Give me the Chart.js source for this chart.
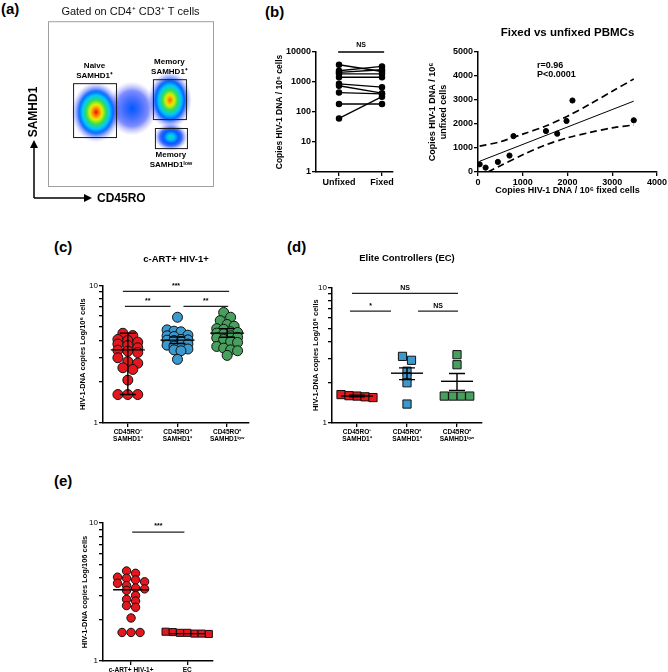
<!DOCTYPE html>
<html><head><meta charset="utf-8">
<script src="https://cdn.jsdelivr.net/npm/chart.js@4/dist/chart.umd.min.js"></script>
<style>
body{margin:0;background:#fff;width:668px;height:672px;position:relative;overflow:hidden;font-family:"Liberation Sans",Arial,sans-serif}
canvas{position:absolute}
.pl{position:absolute;font:bold 15px "Liberation Sans",Arial,sans-serif;color:#000;line-height:15px}
</style></head><body>
<div class="pl" style="left:1px;top:1px">(a)</div>
<div class="pl" style="left:265px;top:4px">(b)</div>
<div class="pl" style="left:54px;top:239px">(c)</div>
<div class="pl" style="left:287px;top:239px">(d)</div>
<div class="pl" style="left:54px;top:473px">(e)</div>
<canvas id="ca" width="230" height="205" style="left:0;top:0"></canvas>
<canvas id="cb1" width="180" height="180" style="left:230px;top:20px"></canvas>
<canvas id="cb2" width="258" height="180" style="left:410px;top:20px"></canvas>
<canvas id="cc" width="255" height="220" style="left:0;top:230px"></canvas>
<canvas id="cd" width="240" height="220" style="left:255px;top:230px"></canvas>
<canvas id="ce" width="230" height="182" style="left:0;top:490px"></canvas>
<script>
// ---------------- DATA ----------------
// (a) flow density clusters (arbitrary fluorescence units 0-1000)
const clusterName = ['bridge','memoryHigh','memoryLow','naive'];
const clusterX  = [510, 739, 745, 291];
const clusterY  = [470, 521, 297, 448];
const clusterSX = [150, 133, 103, 150];
const clusterSY = [165, 175, 85, 185];
const clusterPeak = [0.3, 0.92, 0.55, 1.0];
const gateX1 = [152, 636, 648];
const gateX2 = [412, 836, 842];
const gateY1 = [297, 406, 230];
const gateY2 = [624, 648, 352];
const gateLabel1 = ['Naive', 'Memory', 'Memory'];
const gateLabel2 = ['SAMHD1⁺', 'SAMHD1⁺', 'SAMHD1ˡᵒʷ'];

// (b) paired unfixed vs fixed
const pairedCategories = ['Unfixed', 'Fixed'];
const pairedUnfixed = [3760, 2370, 2080, 1870, 1440, 870, 750, 445, 185, 61];
const pairedFixed   = [2240, 3300, 2560, 1870, 1440, 670, 425, 400, 185, 325];
const pairedYTicks = [1, 10, 100, 1000, 10000];

// (b) correlation
const scatterFixed   = [37, 170, 444, 704, 793, 1519, 1770, 1978, 2111, 3481];
const scatterUnfixed = [321, 182, 419, 685, 1495, 1704, 1593, 2123, 2975, 2151];
const fitX = [37, 3481];
const fitY = [447, 2947];
const bandUpperX = [37, 500, 1000, 1500, 2000, 2500, 3000, 3481];
const bandUpperY = [1076, 1260, 1576, 1900, 2322, 2825, 3358, 3870];
const bandLowerX = [222, 500, 1000, 1500, 2000, 2500, 3000, 3481];
const bandLowerY = [0, 263, 716, 1120, 1422, 1645, 1838, 1956];

// (c) c-ART+ HIV-1+
const cCategories = [['CD45RO⁻','SAMHD1⁺'], ['CD45RO⁺','SAMHD1⁺'], ['CD45RO⁺','SAMHD1ˡᵒʷ']];
const cNaive  = [4.49, 4.32, 4.05, 3.98, 3.87, 3.75, 3.66, 3.52, 3.38, 3.33, 3.25, 2.98, 2.80, 2.72, 2.52, 2.45, 2.05, 1.61, 1.61, 1.61];
const cMemHigh = [5.87, 4.75, 4.65, 4.6, 4.35, 4.3, 4.25, 4.05, 4.02, 4.0, 3.98, 3.9, 3.75, 3.68, 3.62, 3.5, 3.45, 3.4, 3.35, 2.9];
const cMemLow  = [6.36, 5.87, 5.55, 5.2, 5.05, 4.85, 4.8, 4.6, 4.55, 4.5, 4.45, 4.3, 4.2, 4.15, 4.05, 3.9, 3.85, 3.6, 3.5, 3.4, 3.35, 3.1];
const cMid  = [3.4, 4.0, 4.5];
const cLow  = [1.61, 3.78, 4.2];
const cHigh = [4.49, 4.22, 4.85];
const cSigFrom = [-0.1, -0.06, 1.12];
const cSigTo   = [2.04, 0.86, 2.02];
const cSigY    = [9.05, 7.05, 7.05];
const cSigText = ['***', '**', '**'];
const logTicks = [1, 2, 3, 4, 5, 6, 7, 8, 9, 10];
const logLabels = [1, 10];

// (d) Elite controllers
const dNaive   = [1.58, 1.56, 1.54, 1.62, 1.59];
const dMemHigh = [3.1, 2.9, 2.41, 2.19, 1.98, 1.38];
const dMemLow  = [3.19, 2.69, 1.58, 1.58, 1.58, 1.58];
const dMid  = [1.58, 2.33, 2.03];
const dLow  = [1.56, 2.09, 1.74];
const dHigh = [1.60, 2.55, 2.32];
const dSigFrom = [-0.1, -0.14, 1.22];
const dSigTo   = [2.02, 0.68, 2.02];
const dSigY    = [9.04, 6.68, 6.68];
const dSigText = ['NS', '*', 'NS'];

// (e) c-ART+ vs EC
const eCategories = ['c-ART+ HIV-1+', 'EC'];
const eCart = cNaive;
const eEC = [1.62, 1.60, 1.58, 1.57, 1.58, 1.60, 1.63];
const eMid = [3.28, 1.58];
const eSigFrom = [0.02];
const eSigTo = [0.95];
const eSigY = [8.6];
const eSigText = ['***'];

// ---------------- HELPERS ----------------
const F = '"Liberation Sans", Arial, Helvetica, sans-serif';
Chart.defaults.font.family = F;
Chart.defaults.color = '#000';
const RED = '#e5161d', BLUE = '#3a9ad0', GREEN = '#48a05e';

function swarm(values, pxPerDecade, pxPerUnit, sp, maxPerRow, tol) {
  const idx = values.map((v, i) => i).sort((a, b) => values[b] - values[a]);
  const offs = new Array(values.length).fill(0);
  let row = [], rowStart = 0;
  const flush = () => { row.forEach((i, k) => { offs[i] = (k - (row.length - 1) / 2) * sp / pxPerUnit; }); row = []; };
  idx.forEach(i => {
    const py = Math.log10(values[i]) * pxPerDecade;
    if (row.length && (rowStart - py > tol || row.length >= maxPerRow)) flush();
    if (!row.length) rowStart = py;
    row.push(i);
  });
  flush();
  return offs;
}
function groupData(values, cat, pxU, sp, maxPerRow, tol) {
  const o = swarm(values, 138, pxU, sp, maxPerRow, tol);
  return values.map((v, i) => ({ x: cat + o[i], y: v }));
}
function axisBase() {
  return {
    border: { display: true, color: '#000', width: 1.5 },
    grid: { display: true, drawOnChartArea: false, drawTicks: true, tickLength: 4, color: '#000', lineWidth: 1.3 }
  };
}
function annotPlugin(mid, low, high, midHalf, capHalf, sFrom, sTo, sY, sText) {
  return {
    id: 'annot',
    afterDatasetsDraw(chart) {
      const { ctx, scales: { x, y } } = chart;
      ctx.save();
      ctx.strokeStyle = '#000'; ctx.lineWidth = 1.4;
      mid.forEach((m, i) => {
        const cx = x.getPixelForValue(i);
        const ym = y.getPixelForValue(m);
        ctx.beginPath(); ctx.moveTo(cx - midHalf, ym); ctx.lineTo(cx + midHalf, ym); ctx.stroke();
        if (low && high) {
          const yl = y.getPixelForValue(low[i]), yh = y.getPixelForValue(high[i]);
          ctx.beginPath(); ctx.moveTo(cx, yl); ctx.lineTo(cx, yh);
          ctx.moveTo(cx - capHalf, yl); ctx.lineTo(cx + capHalf, yl);
          ctx.moveTo(cx - capHalf, yh); ctx.lineTo(cx + capHalf, yh); ctx.stroke();
        }
      });
      ctx.lineWidth = 1.2; ctx.strokeStyle = '#222';
      ctx.font = 'bold 7px ' + F; ctx.fillStyle = '#000'; ctx.textAlign = 'center'; ctx.textBaseline = 'bottom';
      sFrom.forEach((f, i) => {
        const x1 = x.getPixelForValue(f), x2 = x.getPixelForValue(sTo[i]), yy = y.getPixelForValue(sY[i]);
        ctx.beginPath(); ctx.moveTo(x1, yy); ctx.lineTo(x2, yy); ctx.stroke();
        ctx.fillText(sText[i], (x1 + x2) / 2, yy - 2);
      });
      ctx.restore();
    }
  };
}
function logY(width, titleText, titlePad) {
  return Object.assign(axisBase(), {
    type: 'logarithmic', min: 1, max: 10,
    afterBuildTicks: s => { s.ticks = logTicks.map(v => ({ value: v })); },
    ticks: { callback: v => logLabels.includes(v) ? String(v) : '', font: { size: 8 }, padding: 1, autoSkip: false },
    afterFit: s => { s.width = width; },
    title: { display: true, text: titleText, font: { size: 7.5, weight: 'bold' }, padding: { top: titlePad, bottom: 0 } }
  });
}
function catX(cats, min, max, height, fontSize) {
  return Object.assign(axisBase(), {
    type: 'linear', min: min, max: max,
    afterBuildTicks: s => { s.ticks = cats.map((c, i) => ({ value: i })); },
    ticks: { callback: v => cats[v], font: { size: fontSize, weight: 'bold' }, padding: 1, autoSkip: false, maxRotation: 0 },
    afterFit: s => { s.height = height; }
  });
}
const baseOpts = { responsive: false, animation: false, events: [] };
const noLegend = { legend: { display: false }, tooltip: { enabled: false } };

// ---------------- (a) flow plot ----------------
const cmap = [[0, [0, 0, 255]], [0.3, [0, 90, 255]], [0.45, [0, 200, 255]], [0.6, [50, 220, 90]], [0.75, [230, 240, 0]], [0.88, [255, 130, 0]], [1, [255, 0, 0]]];
function densColor(d, t) {
  let c = cmap[0][1];
  for (let k = 1; k < cmap.length; k++) {
    if (d <= cmap[k][0]) {
      const a = cmap[k - 1], b = cmap[k];
      const f = (d - a[0]) / (b[0] - a[0]);
      c = a[1].map((v, j) => Math.round(v + (b[1][j] - v) * f));
      break;
    }
    c = cmap[k][1];
  }
  let alpha = Math.min(1, 0.25 + d * 2.5);
  if (t > 0.65) alpha *= Math.max(0, (1 - t) / 0.35);
  return 'rgba(' + c[0] + ',' + c[1] + ',' + c[2] + ',' + alpha.toFixed(3) + ')';
}
const flowPlugin = {
  id: 'flow',
  beforeDatasetsDraw(chart) {
    const { ctx, chartArea: a, scales: { x, y } } = chart;
    ctx.save();
    ctx.beginPath(); ctx.rect(a.left, a.top, a.width, a.height); ctx.clip();
    clusterX.forEach((cxv, i) => {
      const cx = x.getPixelForValue(cxv), cy = y.getPixelForValue(clusterY[i]);
      const rx = Math.abs(x.getPixelForValue(cxv + clusterSX[i]) - cx);
      const ry = Math.abs(y.getPixelForValue(clusterY[i] + clusterSY[i]) - cy);
      ctx.save(); ctx.translate(cx, cy); ctx.scale(rx, ry);
      const g = ctx.createRadialGradient(0, 0, 0, 0, 0, 1);
      for (let k = 0; k <= 20; k++) { const t = k / 20; g.addColorStop(t, densColor(clusterPeak[i] * (1 - t), t)); }
      ctx.fillStyle = g; ctx.beginPath(); ctx.arc(0, 0, 1, 0, Math.PI * 2); ctx.fill();
      ctx.restore();
    });
    ctx.restore();
  },
  afterDraw(chart) {
    const { ctx, chartArea: a, scales: { x, y } } = chart;
    ctx.save();
    ctx.strokeStyle = '#1a1a1a'; ctx.lineWidth = 1;
    ctx.font = 'bold 8px ' + F; ctx.fillStyle = '#000'; ctx.textAlign = 'center'; ctx.textBaseline = 'middle';
    gateX1.forEach((gx, i) => {
      const x1 = x.getPixelForValue(gx), x2 = x.getPixelForValue(gateX2[i]);
      const y1 = y.getPixelForValue(gateY1[i]), y2 = y.getPixelForValue(gateY2[i]);
      ctx.strokeRect(x1 + 0.5, y2 + 0.5, x2 - x1, y1 - y2);
      const cx = (x1 + x2) / 2;
      if (i < 2) { ctx.fillText(gateLabel1[i], cx, y2 - 17); ctx.fillText(gateLabel2[i], cx, y2 - 7); }
      else { ctx.fillText(gateLabel1[i], cx, y1 + 7); ctx.fillText(gateLabel2[i], cx, y1 + 17); }
    });
    ctx.strokeStyle = '#a0a0a0';
    ctx.strokeRect(a.left + 0.5, a.top + 0.5, a.width, a.height);
    // axes arrows
    ctx.strokeStyle = '#000'; ctx.lineWidth = 1.5; ctx.fillStyle = '#000';
    ctx.beginPath(); ctx.moveTo(34, 198); ctx.lineTo(34, 146); ctx.moveTo(34, 198); ctx.lineTo(86, 198); ctx.stroke();
    ctx.beginPath(); ctx.moveTo(34, 140); ctx.lineTo(30, 148); ctx.lineTo(38, 148); ctx.closePath(); ctx.fill();
    ctx.beginPath(); ctx.moveTo(92, 198); ctx.lineTo(84, 194); ctx.lineTo(84, 202); ctx.closePath(); ctx.fill();
    ctx.font = 'bold 12px ' + F;
    ctx.textAlign = 'left'; ctx.fillText('CD45RO', 97, 199);
    ctx.translate(34, 112); ctx.rotate(-Math.PI / 2); ctx.textAlign = 'center'; ctx.fillText('SAMHD1', 0, 0);
    ctx.restore();
  }
};
new Chart(document.getElementById('ca'), {
  type: 'scatter',
  data: { datasets: [{ data: clusterX.map((v, i) => ({ x: v, y: clusterY[i] })), pointRadius: 0 }] },
  options: Object.assign({}, baseOpts, {
    layout: { padding: { left: 48, right: 17, top: 0, bottom: 19 } },
    plugins: Object.assign({}, noLegend, {
      title: { display: true, fullSize: false, text: 'Gated on CD4⁺ CD3⁺ T cells', font: { size: 11, weight: 'normal' }, color: '#111', padding: { top: 5, bottom: 3 } }
    }),
    scales: { x: { display: false, min: 0, max: 1000 }, y: { display: false, min: 0, max: 1000 } }
  }),
  plugins: [flowPlugin]
});

// ---------------- (b) paired ----------------
const nsPlugin = {
  id: 'ns',
  afterDatasetsDraw(chart) {
    const { ctx, scales: { x, y } } = chart;
    const x1 = x.getPixelForValue(-0.02), x2 = x.getPixelForValue(1.05), yy = y.getPixelForValue(10000);
    ctx.save(); ctx.strokeStyle = '#000'; ctx.lineWidth = 1.4;
    ctx.beginPath(); ctx.moveTo(x1, yy); ctx.lineTo(x2, yy); ctx.stroke();
    ctx.font = 'bold 7px ' + F; ctx.textAlign = 'center'; ctx.textBaseline = 'bottom'; ctx.fillStyle = '#000';
    ctx.fillText('NS', (x1 + x2) / 2, yy - 3);
    ctx.restore();
  }
};
new Chart(document.getElementById('cb1'), {
  type: 'scatter',
  data: {
    datasets: pairedUnfixed.map((u, i) => ({
      data: [{ x: 0, y: u }, { x: 1, y: pairedFixed[i] }], showLine: true,
      borderColor: '#000', borderWidth: 1.3, pointRadius: 2.6, pointBackgroundColor: '#000', pointBorderColor: '#000'
    }))
  },
  options: Object.assign({}, baseOpts, {
    layout: { padding: { left: 0, right: 17, top: 32, bottom: 0 } },
    plugins: noLegend,
    scales: {
      x: catX(pairedCategories, -0.535, 1.256, 28, 9),
      y: Object.assign(axisBase(), {
        type: 'logarithmic', min: 1, max: 10000,
        afterBuildTicks: s => { s.ticks = pairedYTicks.map(v => ({ value: v })); },
        ticks: { callback: v => String(v), font: { size: 9, weight: 'bold' }, padding: 1 },
        afterFit: s => { s.width = 86; },
        title: { display: true, text: 'Copies HIV-1 DNA / 10⁶ cells', font: { size: 8.5, weight: 'bold' }, padding: { top: 45, bottom: 0 } }
      })
    }
  }),
  plugins: [nsPlugin]
});

// ---------------- (b) correlation ----------------
const rPlugin = {
  id: 'rtext',
  afterDatasetsDraw(chart) {
    const { ctx, chartArea: a } = chart;
    ctx.save(); ctx.font = 'bold 9px ' + F; ctx.fillStyle = '#000'; ctx.textAlign = 'left'; ctx.textBaseline = 'middle';
    ctx.fillText('r=0.96', a.left + 59, a.top + 14);
    ctx.fillText('P<0.0001', a.left + 59, a.top + 23);
    ctx.restore();
  }
};
new Chart(document.getElementById('cb2'), {
  type: 'scatter',
  data: {
    datasets: [
      { data: scatterFixed.map((v, i) => ({ x: v, y: scatterUnfixed[i] })), pointRadius: 2.6, pointBackgroundColor: '#000', pointBorderColor: '#000' },
      { data: fitX.map((v, i) => ({ x: v, y: fitY[i] })), showLine: true, pointRadius: 0, borderColor: '#000', borderWidth: 1 },
      { data: bandUpperX.map((v, i) => ({ x: v, y: bandUpperY[i] })), showLine: true, pointRadius: 0, borderColor: '#000', borderWidth: 1.7, borderDash: [7, 4], tension: 0.3 },
      { data: bandLowerX.map((v, i) => ({ x: v, y: bandLowerY[i] })), showLine: true, pointRadius: 0, borderColor: '#000', borderWidth: 1.7, borderDash: [7, 4], tension: 0.3 }
    ]
  },
  options: Object.assign({}, baseOpts, {
    layout: { padding: { left: 0, right: 10, top: 0, bottom: 0 } },
    plugins: Object.assign({}, noLegend, {
      title: { display: true, fullSize: false, text: 'Fixed vs unfixed PBMCs', font: { size: 11.5, weight: 'bold' }, padding: { top: 6, bottom: 12 } }
    }),
    scales: {
      x: Object.assign(axisBase(), {
        type: 'linear', min: 0, max: 4000,
        ticks: { stepSize: 1000, callback: v => String(v), font: { size: 9, weight: 'bold' }, padding: 1 },
        afterFit: s => { s.height = 28; },
        title: { display: true, text: 'Copies HIV-1 DNA / 10⁶ fixed cells', font: { size: 9, weight: 'bold' }, padding: { top: 0, bottom: 4 } }
      }),
      y: Object.assign(axisBase(), {
        type: 'linear', min: 0, max: 5000,
        ticks: { stepSize: 1000, callback: v => String(v), font: { size: 9, weight: 'bold' }, padding: 1 },
        afterFit: s => { s.width = 68; },
        title: { display: true, text: ['Copies HIV-1 DNA / 10⁶', 'unfixed cells'], font: { size: 9, weight: 'bold' }, padding: { top: 17, bottom: 0 } }
      })
    }
  }),
  plugins: [rPlugin]
});

// ---------------- (c) ----------------
function circleSet(data, color, r) {
  return { data: data, pointRadius: r, pointBackgroundColor: color, pointBorderColor: '#111', pointBorderWidth: 1 };
}
function squareSet(data, color, r) {
  return { data: data, pointStyle: 'rect', pointRadius: r, pointBackgroundColor: color, pointBorderColor: '#111', pointBorderWidth: 1 };
}
new Chart(document.getElementById('cc'), {
  type: 'scatter',
  data: {
    datasets: [
      circleSet(groupData(cNaive, 0, 50, 10, 3, 6), RED, 5),
      circleSet(groupData(cMemHigh, 1, 50, 7, 4, 6), BLUE, 5),
      circleSet(groupData(cMemLow, 2, 50, 7, 4, 6), GREEN, 5)
    ]
  },
  options: Object.assign({}, baseOpts, {
    layout: { padding: { left: 0, right: 5, top: 0, bottom: 0 } },
    plugins: Object.assign({}, noLegend, {
      title: { display: true, fullSize: false, text: 'c-ART+ HIV-1+', font: { size: 9.5, weight: 'bold' }, padding: { top: 24, bottom: 20 } }
    }),
    scales: { x: catX(cCategories, -0.5, 2.44, 27, 6.5), y: logY(103, 'HIV-1-DNA copies Log/10⁶ cells', 78) }
  }),
  plugins: [annotPlugin(cMid, cLow, cHigh, 17, 8, cSigFrom, cSigTo, cSigY, cSigText)]
});

// ---------------- (d) ----------------
new Chart(document.getElementById('cd'), {
  type: 'scatter',
  data: {
    datasets: [
      squareSet(groupData(dNaive, 0, 50, 8, 6, 5), RED, 5.8),
      squareSet(groupData(dMemHigh, 1, 50, 9, 3, 5), BLUE, 5.8),
      squareSet(groupData(dMemLow, 2, 50, 8.5, 6, 5), GREEN, 5.8)
    ]
  },
  options: Object.assign({}, baseOpts, {
    layout: { padding: { left: 0, right: 13, top: 0, bottom: 0 } },
    plugins: Object.assign({}, noLegend, {
      title: { display: true, fullSize: false, text: 'Elite Controllers (EC)', font: { size: 9.5, weight: 'bold' }, padding: { top: 23, bottom: 23 } }
    }),
    scales: { x: catX(cCategories, -0.5, 2.5, 27, 6.5), y: logY(77, 'HIV-1-DNA copies Log/10⁶ cells', 56) }
  }),
  plugins: [annotPlugin(dMid, dLow, dHigh, 16, 8, dSigFrom, dSigTo, dSigY, dSigText)]
});

// ---------------- (e) ----------------
new Chart(document.getElementById('ce'), {
  type: 'scatter',
  data: {
    datasets: [
      circleSet(groupData(eCart, 0, 56, 9, 5, 6), RED, 4.2),
      squareSet(groupData(eEC, 1, 56, 7.2, 8, 6), RED, 5)
    ]
  },
  options: Object.assign({}, baseOpts, {
    layout: { padding: { left: 0, right: 17, top: 33, bottom: 0 } },
    plugins: noLegend,
    scales: { x: catX(eCategories, -0.5, 1.46, 11, 6.5), y: logY(103, 'HIV-1-DNA copies Log/106 cells', 80) }
  }),
  plugins: [annotPlugin(eMid, null, null, 18, 0, eSigFrom, eSigTo, eSigY, eSigText)]
});
</script>
</body></html>
